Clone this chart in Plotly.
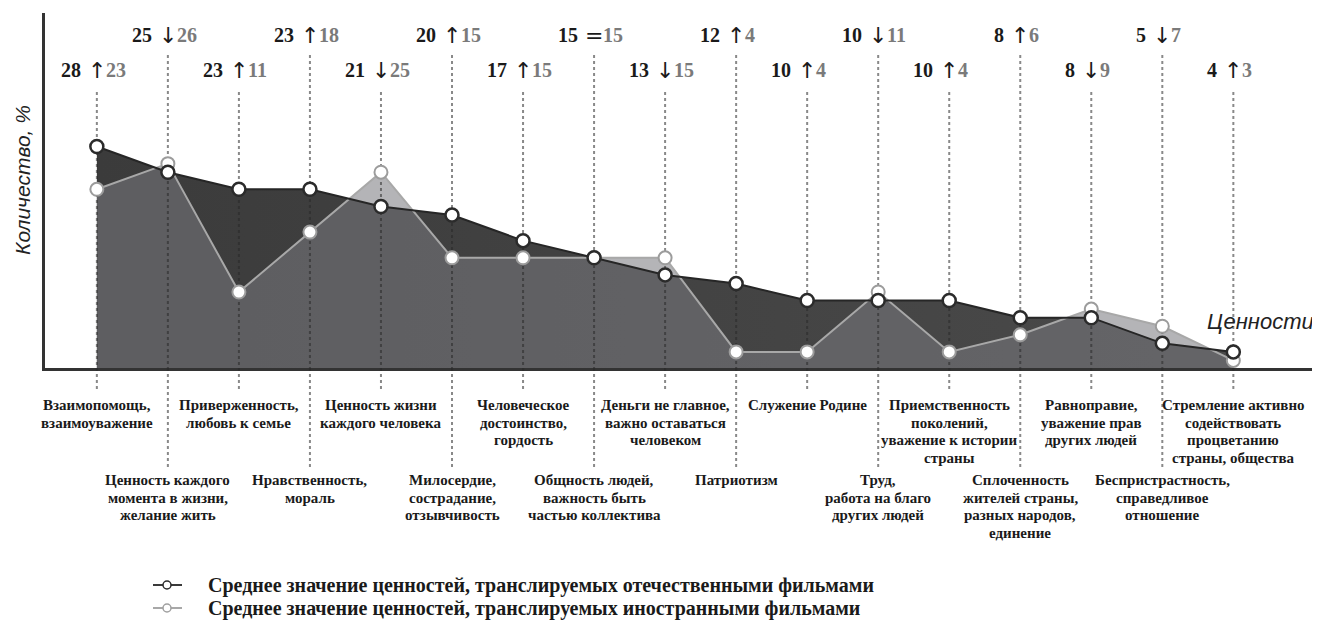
import plotly.graph_objects as go

categories = [
    "Взаимопомощь,<br>взаимоуважение",
    "Ценность каждого<br>момента в жизни,<br>желание жить",
    "Приверженность,<br>любовь к семье",
    "Нравственность,<br>мораль",
    "Ценность жизни<br>каждого человека",
    "Милосердие,<br>сострадание,<br>отзывчивость",
    "Человеческое<br>достоинство,<br>гордость",
    "Общность людей,<br>важность быть<br>частью коллектива",
    "Деньги не главное,<br>важно оставаться<br>человеком",
    "Патриотизм",
    "Служение Родине",
    "Труд,<br>работа на благо<br>других людей",
    "Приемственность<br>поколений,<br>уважение к истории<br>страны",
    "Сплоченность<br>жителей страны,<br>разных народов,<br>единение",
    "Равноправие,<br>уважение прав<br>других людей",
    "Беспристрастность,<br>справедливое<br>отношение",
    "Стремление активно<br>содействовать<br>процветанию<br>страны, общества",
]
domestic = [28, 25, 23, 23, 21, 20, 17, 15, 13, 12, 10, 10, 10, 8, 8, 5, 4]
foreign = [23, 26, 11, 18, 25, 15, 15, 15, 15, 4, 4, 11, 4, 6, 9, 7, 3]

legend_labels = [
    "Среднее значение ценностей, транслируемых отечественными фильмами",
    "Среднее значение ценностей, транслируемых иностранными фильмами",
]
y_title = "Количество, %"
x_title = "Ценности"

n = len(categories)
idx = list(range(n))

# page body has an 8px margin; figure sized so the plot lands where the reference has it
BODY = 8
FIG_W, FIG_H = 1312, 618
YMIN, YMAX = 2.12, 43.6
XMIN, XMAX = -0.73, 17.22
PLOT_L, PLOT_W = 45, 1275      # screen px
PLOT_T, PLOT_H = 13, 355       # screen px
LINE_GAP = 17.7                # px between category label lines


def px_to_paper_y(py):
    return (PLOT_T + PLOT_H - py) / PLOT_H


def px_to_paper_x(px):
    return (px - PLOT_L) / PLOT_W


def paper_to_data_y(p):
    return YMIN + p * (YMAX - YMIN)


SERIF = "Liberation Serif"
SANS = "Liberation Sans"
GUIDE = "rgba(40,40,40,0.55)"

fig = go.Figure()

# Domestic area (dark)
fig.add_trace(go.Scatter(
    x=idx, y=domestic, mode="lines", fill="tozeroy",
    line=dict(width=0, color="#444444"),
    fillgradient=dict(type="horizontal", colorscale=[[0, "#3b3b3b"], [1, "#4a4a4a"]]),
    hoverinfo="skip", showlegend=False,
))
# Foreign area: semi-transparent, light over white, medium over the dark area
fig.add_trace(go.Scatter(
    x=idx, y=foreign, mode="lines", fill="tozeroy",
    line=dict(width=0, color="rgba(122,122,126,0.56)"),
    fillcolor="rgba(122,122,127,0.56)",
    hoverinfo="skip", showlegend=False,
))

# Dotted guide lines inside the plot area
gx, gy = [], []
for i in idx:
    top_px = 92 if i % 2 == 0 else 55
    gx += [i, i, None]
    gy += [paper_to_data_y(px_to_paper_y(top_px)), YMIN, None]
fig.add_trace(go.Scatter(
    x=gx, y=gy, mode="lines",
    line=dict(color=GUIDE, width=2, dash="dot"),
    hoverinfo="skip", showlegend=False,
))

# Foreign line + markers
fig.add_trace(go.Scatter(
    x=idx, y=foreign, mode="lines+markers",
    line=dict(color="#a8a8a8", width=2),
    marker=dict(size=13, color="white", line=dict(color="#9c9c9c", width=2)),
    showlegend=False, cliponaxis=False,
))
# Domestic line + markers
fig.add_trace(go.Scatter(
    x=idx, y=domestic, mode="lines+markers",
    line=dict(color="#262626", width=2),
    marker=dict(size=13, color="white", line=dict(color="#2b2b2b", width=2.5)),
    showlegend=False, cliponaxis=False,
))

shapes = []
annotations = []

# Dotted guide lines below the axis
for i in idx:
    bottom_px = 392 if i % 2 == 0 else 470
    shapes.append(dict(
        type="line", xref="x", yref="paper", x0=i, x1=i,
        y0=0, y1=px_to_paper_y(bottom_px),
        line=dict(color=GUIDE, width=2, dash="dot"),
        layer="above",
    ))

# Top comparison labels
for i in idx:
    ypx = 70 if i % 2 == 0 else 35
    yp = px_to_paper_y(ypx)
    d, f = domestic[i], foreign[i]
    sign = "↑" if d > f else ("↓" if d < f else "=")
    annotations.append(dict(
        x=i, y=yp, xref="x", yref="paper", text=f"<b>{d}</b>",
        showarrow=False, xanchor="right", yanchor="middle", xshift=-14,
        font=dict(family=SERIF, size=20, color="#1a1a1a"),
    ))
    annotations.append(dict(
        x=i, y=yp, xref="x", yref="paper", text=sign,
        showarrow=False, xanchor="center", yanchor="middle",
        font=dict(family="DejaVu Sans", size=22, color="#1a1a1a"),
    ))
    annotations.append(dict(
        x=i, y=yp, xref="x", yref="paper", text=f"<b>{f}</b>",
        showarrow=False, xanchor="left", yanchor="middle", xshift=7,
        font=dict(family=SERIF, size=20, color="#7a7a7a"),
    ))

# Bottom category labels, one annotation per line for tight line spacing
for i in idx:
    first_px = 405 if i % 2 == 0 else 480
    for k, line in enumerate(categories[i].split("<br>")):
        annotations.append(dict(
            x=i, y=px_to_paper_y(first_px + k * LINE_GAP), xref="x", yref="paper",
            text=f"<b>{line}</b>", showarrow=False,
            xanchor="center", yanchor="middle", align="center",
            font=dict(family=SERIF, size=15, color="#1a1a1a"),
        ))

# Axis titles
annotations.append(dict(
    x=px_to_paper_x(22), y=px_to_paper_y(180), xref="paper", yref="paper",
    text=f"<i>{y_title}</i>",
    showarrow=False, textangle=-90, xanchor="center", yanchor="middle",
    font=dict(family=SANS, size=21, color="#222222"),
))
annotations.append(dict(
    x=1, y=px_to_paper_y(321), xref="paper", yref="paper", text=f"<i>{x_title}</i>",
    showarrow=False, xanchor="right", yanchor="middle", xshift=-4,
    font=dict(family=SANS, size=22, color="#222222"),
))

# Manual legend
legend_styles = [("#2b2b2b", "#3a3a3a"), ("#a0a0a0", "#a8a8a8")]
for k, (lab, (mc, lc)) in enumerate(zip(legend_labels, legend_styles)):
    ypx = 585 + 23 * k
    yp = px_to_paper_y(ypx)
    shapes.append(dict(
        type="line", xref="paper", yref="paper",
        x0=px_to_paper_x(153), x1=px_to_paper_x(182), y0=yp, y1=yp,
        line=dict(color=lc, width=2),
    ))
    shapes.append(dict(
        type="circle", xref="paper", yref="paper",
        xsizemode="pixel", ysizemode="pixel",
        xanchor=px_to_paper_x(167), yanchor=yp,
        x0=-4, x1=4, y0=-4, y1=4,
        fillcolor="white", line=dict(color=mc, width=1.5),
    ))
    annotations.append(dict(
        x=px_to_paper_x(206), y=yp, xref="paper", yref="paper",
        text=f"<b>{lab}</b>", showarrow=False, xanchor="left", yanchor="middle",
        font=dict(family=SERIF, size=20, color="#1a1a1a"),
    ))

fig.update_layout(
    width=FIG_W, height=FIG_H,
    margin=dict(l=PLOT_L - BODY, r=0, t=PLOT_T - BODY, b=FIG_H - (PLOT_T - BODY) - PLOT_H),
    paper_bgcolor="white", plot_bgcolor="white",
    xaxis=dict(range=[XMIN, XMAX], showgrid=False, zeroline=False, showticklabels=False,
               ticks="", showline=True, linecolor="#333333", linewidth=2.5, fixedrange=True),
    yaxis=dict(range=[YMIN, YMAX], showgrid=False, zeroline=False, showticklabels=False,
               ticks="", showline=True, linecolor="#333333", linewidth=2.5, fixedrange=True),
    shapes=shapes, annotations=annotations,
    showlegend=False,
)

fig.write_html("out.html")
